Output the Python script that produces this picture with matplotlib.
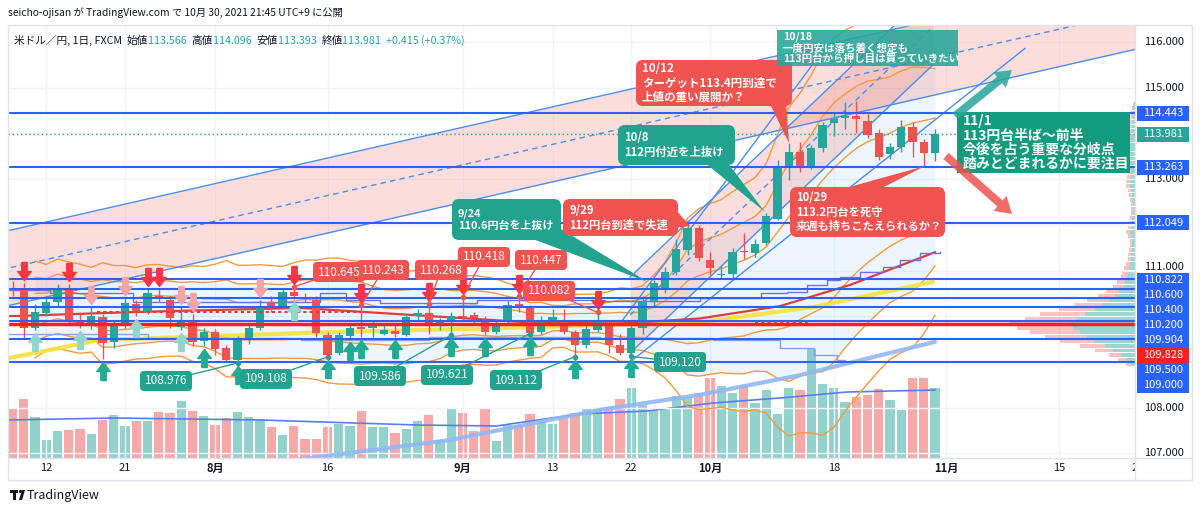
import numpy as np
import pandas as pd
import matplotlib
matplotlib.use('Agg')
import matplotlib.pyplot as plt
from matplotlib import transforms
from matplotlib.patches import FancyBboxPatch, Polygon, Rectangle
from matplotlib.path import Path

plt.rcParams['font.family'] = ['Noto Sans CJK JP', 'DejaVu Sans']

# USD/JPY daily, 2021-07-07 .. 2021-10-29 (one bar per weekday)
opens = [110.62, 110.59, 109.74, 110.08, 110.32, 110.60, 109.92, 109.79, 109.99, 109.44,
         109.83, 110.27, 110.10, 110.44, 110.35, 109.77, 109.88, 109.46, 109.66, 109.30,
         109.05, 109.48, 109.74, 110.32, 110.21, 110.54, 110.42, 110.35, 109.59, 109.20,
         109.57, 109.76, 109.74, 109.62, 109.68, 109.59, 110.00, 110.07, 109.81, 109.92,
         110.01, 110.02, 109.88, 109.66, 109.88, 110.26, 110.18, 109.66, 109.90, 109.88,
         109.66, 109.37, 109.70, 109.81, 109.37, 109.20, 109.74, 110.32, 110.62, 110.97,
         111.45, 111.93, 111.23, 110.90, 110.92, 111.43, 111.39, 111.60, 112.13, 113.27,
         113.60, 113.27, 113.68, 114.23, 114.34, 114.37, 114.28, 114.00, 113.55, 113.71,
         114.14, 113.82, 113.566]
highs = [110.78, 110.72, 110.26, 110.40, 110.70, 110.70, 110.05, 110.20, 110.05, 109.90,
         110.40, 110.35, 110.59, 110.60, 110.45, 110.20, 110.05, 109.75, 109.72, 109.36,
         109.56, 109.80, 110.36, 110.45, 110.60, 110.645, 110.50, 110.45, 109.65, 109.65,
         109.85, 110.243, 109.92, 109.85, 109.80, 110.05, 110.15, 110.268, 109.95, 110.10,
         110.418, 110.10, 110.00, 109.90, 110.35, 110.447, 110.25, 110.00, 110.15, 110.15,
         109.70, 109.80, 110.082, 109.90, 109.60, 109.80, 110.45, 110.80, 111.07, 111.68,
         112.07, 112.00, 111.40, 111.10, 111.50, 111.82, 111.70, 112.25, 113.42, 113.80,
         113.82, 113.75, 114.25, 114.45, 114.69, 114.70, 114.42, 114.10, 113.80, 114.30,
         114.25, 113.88, 114.096]
lows = [110.45, 109.53, 109.70, 110.00, 110.20, 109.80, 109.75, 109.72, 109.06, 109.30,
        109.75, 110.00, 110.05, 110.30, 109.75, 109.70, 109.35, 109.35, 109.15, 109.00,
        108.976, 109.40, 109.70, 110.10, 110.15, 110.38, 110.30, 109.55, 109.108, 109.15,
        109.50, 109.55, 109.55, 109.58, 109.55, 109.57, 109.90, 109.62, 109.70, 109.586,
        109.90, 109.85, 109.58, 109.60, 109.80, 110.10, 109.621, 109.60, 109.80, 109.60,
        109.112, 109.30, 109.65, 109.20, 109.15, 109.12, 109.60, 110.20, 110.50, 110.90,
        111.35, 111.20, 110.90, 110.82, 110.80, 111.25, 111.30, 111.55, 112.10, 112.98,
        113.15, 113.22, 113.60, 113.95, 114.10, 114.00, 113.90, 113.41, 113.45, 113.60,
        113.48, 113.26, 113.393]
closes = [110.60, 109.74, 110.10, 110.32, 110.60, 109.92, 109.86, 110.00, 109.42, 109.83,
          110.29, 110.10, 110.51, 110.38, 109.96, 109.88, 109.44, 109.66, 109.28, 109.05,
          109.48, 109.74, 110.18, 110.22, 110.54, 110.44, 110.38, 109.63, 109.15, 109.59,
          109.74, 109.72, 109.80, 109.69, 109.62, 109.99, 110.07, 109.81, 109.88, 110.00,
          109.98, 109.95, 109.66, 109.81, 110.25, 110.22, 109.63, 109.88, 109.98, 109.66,
          109.37, 109.71, 109.90, 109.37, 109.20, 109.74, 110.32, 110.72, 110.97, 111.47,
          111.93, 111.27, 111.05, 110.93, 111.41, 111.40, 111.58, 112.19, 113.27, 113.60,
          113.27, 113.68, 114.18, 114.31, 114.37, 114.31, 113.96, 113.49, 113.70, 114.14,
          113.82, 113.57, 113.981]
volumes = [49.7, 59, 41, 18, 27.4, 28.2, 29.3, 24.3, 38.5, 43.5,
           32, 37, 37, 46, 45.5, 57, 47.4, 42.4, 33.2, 40,
           46.2, 41, 39, 31, 23.2, 32.4, 19, 19, 31.2, 34,
           32, 47.4, 31.2, 31.2, 25.5, 29, 37, 43.5, 18.5, 49.7,
           45.5, 27.4, 49.7, 16.6, 33.2, 33.2, 44, 37, 34, 41.6,
           44.7, 48.7, 48.7, 51.3, 59.3, 70.3, 53, 48, 47.7, 62,
           61, 65.3, 80.3, 72, 64.7, 72.7, 55.3, 68, 44.3, 70.3,
           68, 109.3, 73.7, 70.3, 56.3, 61, 62.7, 68.7, 57.7, 48,
           80.3, 80.3, 69.7]

tick_idx = [3, 10, 18, 28, 40, 48, 55, 62, 73, 83, 93, 100]
tick_txt = ['12', '21', '8月', '16', '9月', '13', '22', '10月', '18', '11月', '15', '22']
month_ticks = ['8月', '9月', '10月', '11月']
axis_prices = [116, 115, 113, 111, 108, 107]

hlines = [114.443, 113.263, 112.049, 110.822, 110.600, 110.400, 110.200, 109.904, 109.500, 109.000]
poc = 109.828
last_close = 113.981

# signal arrows (bar indices)
sell_strong = [1, 5, 12, 13, 25, 31, 37, 40, 45, 52]
sell_weak = [7, 10, 15, 16, 22]
buy_strong = [8, 17, 20, 28, 30, 31, 34, 39, 42, 46, 50, 55]
buy_weak = [2, 6, 11, 15, 25]

# swing high / low markers
swing_hi = [25, 31, 37, 40, 45, 52]
swing_lo = [20, 28, 39, 46, 50, 55]

# moving averages / trend drawings as (bar index, price) knots
ma_red_x = [-0.4, 12, 25.6, 46.3, 54, 61.1, 68.2, 74.4, 82]
ma_red_y = [110.00, 110.10, 110.18, 109.86, 109.84, 109.95, 110.22, 110.68, 111.40]
ma_yel_x = [-0.2, 7.8, 28.2, 43.3, 61.1, 71.2, 81.8]
ma_yel_y = [109.09, 109.48, 109.65, 109.74, 109.87, 110.20, 110.75]
long_x = [25.0, 38.9, 52.2, 61.1, 70.0, 82.0]
long_y = [106.85, 107.29, 107.95, 108.28, 108.71, 109.44]
vma_x = [-0.4, 9, 22, 36, 43, 50.4, 56.4, 62.3, 68.2, 74.2, 82]
vma_y = [38, 40, 38, 33, 32, 44, 47, 55, 60, 66, 68]
step_hi_x = [-0.4, 3.3, 10.7, 27.3, 29.6, 32.7, 41.3, 52.2, 61.1, 66.5, 68.8, 70.6, 72.4,
             73.6, 75.3, 77.4, 78.9, 80.7, 82.4]
step_hi_y = [110.57, 110.50, 110.30, 110.50, 110.35, 110.29, 110.35, 110.33, 110.40, 110.50,
             110.53, 110.68, 110.79, 110.85, 110.96, 111.07, 111.23, 111.38, 111.40]
step_lo_x = [-0.4, 12.0, 25.6, 37.0, 52.2, 62.3, 68.2, 71.2, 73.3, 74.0]
step_lo_y = [109.60, 109.52, 109.48, 109.55, 109.52, 109.48, 109.30, 109.15, 109.04, 109.04]

ch1_x = [-1, 100]
ch1_lo = [110.196, 115.85]
ch1_w = 1.641
ch2_x = [54.9, 81.8]
ch2_lo = [109.195, 115.497]
ch2_w = 1.663
tl_a_x = [54.0, 72.0]
tl_a_y = [109.84, 115.80]
tl_b_x = [54.9, 90.0]
tl_b_y = [108.998, 115.86]

# volume profile rows (price, up, down) in arbitrary units
vp_price = np.round(np.arange(108.95, 114.75, 0.1), 2)
vp_up = [5, 9, 14, 22, 30, 40, 48, 55, 62, 66, 58, 50, 40, 33, 26, 20, 16, 12, 10, 8,
         7, 6, 5, 4, 4, 3, 3, 3, 4, 5, 4, 3, 3, 2, 2, 2, 3, 3, 4, 5,
         5, 4, 4, 5, 6, 7, 6, 5, 6, 5, 4, 4, 3, 3, 2, 2, 2, 1]
vp_dn = [4, 8, 12, 18, 25, 35, 42, 50, 56, 60, 52, 45, 36, 28, 22, 17, 13, 10, 8, 6,
         6, 5, 4, 3, 3, 3, 2, 2, 3, 4, 3, 3, 2, 2, 2, 2, 2, 3, 3, 4,
         4, 4, 3, 4, 5, 5, 5, 4, 5, 4, 3, 3, 3, 2, 2, 2, 1, 1]

UP = '#26a69a'
DN = '#ef5350'
BLUE = '#2962ff'

W, H = 1200, 512
fig = plt.figure(figsize=(12, 5.12), dpi=100)
PX = transforms.Affine2D().scale(1 / W, -1 / H).translate(0, 1) + fig.transFigure

L, T, R, B = 8, 25, 1135, 458
x0, dx = 12.5, 11.25
p0, dy = 116.0, 45.7
rect = [L / W, 1 - B / H, (R - L) / W, (B - T) / H]
xlim = ((L - x0) / dx, (R - x0) / dx)
ylim = (p0 - (B - 42) / dy, p0 + (42 - T) / dy)

axv = fig.add_axes(rect, zorder=0)
axp = fig.add_axes(rect, zorder=0.5)
ax = fig.add_axes(rect, zorder=1)
for a in (axv, axp, ax):
    a.set_xticks([])
    a.set_yticks([])
    for s in a.spines.values():
        s.set_visible(False)
ax.patch.set_visible(False)
axp.patch.set_visible(False)

idx = np.arange(len(closes))
o = np.array(opens); h = np.array(highs); l = np.array(lows); c = np.array(closes)
up = c >= o

# grid
for t in tick_idx[:-1]:
    axv.axvline(t, color='#f0f3fa', lw=1)
axv.set_xlim(*xlim)
axv.set_ylim(0, B - T)
for pr in range(107, 117):
    ax.axhline(pr, color='#f0f3fa', lw=1, zorder=0)

# volume
vcol = np.where(up, '#92d2cc', '#f7a9a7')
axv.bar(idx, volumes, width=0.82, color=vcol, zorder=1)
axv.plot(vma_x, vma_y, color='#5b7cf0', lw=1.2, zorder=2)

# volume profile
axp.set_xlim(R - L, 0)
axp.set_ylim(*ylim)
axp.barh(vp_price, vp_up, height=0.085, color=UP, alpha=0.45, lw=0)
axp.barh(vp_price, vp_dn, left=vp_up, height=0.085, color=DN, alpha=0.35, lw=0)

ax.set_xlim(*xlim)
ax.set_ylim(*ylim)

# bollinger bands (20, 1/2/3 sigma)
s = pd.Series(closes)
mid = s.rolling(20, min_periods=3).mean()
sd = s.rolling(20, min_periods=3).std(ddof=0)
ax.fill_between(idx, mid - 2 * sd, mid + 2 * sd, color='#2196f3', alpha=0.08, lw=0, zorder=1)
for k in (1, 2, 3):
    ax.plot(idx, mid + k * sd, color='#f59a3c', lw=1, zorder=2)
    ax.plot(idx, mid - k * sd, color='#f59a3c', lw=1, zorder=2)

# channels
cx = np.array(ch1_x); clo = np.array(ch1_lo)
ax.fill_between(cx, clo, clo + ch1_w, color='#f28b82', alpha=0.28, lw=0, zorder=1)
ax.plot(cx, clo, color='#4a8ef0', lw=1, zorder=2)
ax.plot(cx, clo + ch1_w, color='#4a8ef0', lw=1, zorder=2)
ax.plot(cx, clo + ch1_w / 2, color='#4a8ef0', lw=1, ls=(0, (4, 3)), zorder=2)

cx2 = np.array(ch2_x); clo2 = np.array(ch2_lo)
ax.fill_between(cx2, clo2, clo2 + ch2_w, color='#f28b82', alpha=0.28, lw=0, zorder=1)
ax.plot(cx2, clo2, color='#4a8ef0', lw=1, zorder=2)
ax.plot(cx2, clo2 + ch2_w, color='#4a8ef0', lw=1, zorder=2)
ax.plot(cx2, clo2 + ch2_w / 2, color='#4a8ef0', lw=1, ls=(0, (4, 3)), zorder=2)
ax.plot(tl_a_x, tl_a_y, color='#4a8ef0', lw=1, zorder=2)
ax.plot(tl_b_x, tl_b_y, color='#4a8ef0', lw=1, zorder=2)

# moving averages and step lines
ax.plot(ma_yel_x, ma_yel_y, color='#f5e23c', lw=3, alpha=0.9, zorder=2)
ax.plot(ma_red_x, ma_red_y, color='#e03c3c', lw=1.6, zorder=2)
ax.plot(long_x, long_y, color='#8fb8f6', lw=3, alpha=0.9, zorder=2, solid_capstyle='round')
ax.plot(step_hi_x, step_hi_y, color='#6d72e8', lw=1, drawstyle='steps-post', zorder=2)
ax.plot(step_lo_x, step_lo_y, color='#8d9cf0', lw=1, drawstyle='steps-post', zorder=2)

# candles
ccol = np.where(up, UP, DN)
ax.vlines(idx, l, h, colors=ccol, lw=1, zorder=3)
body = np.maximum(np.abs(c - o), 0.02)
ax.bar(idx, body, bottom=np.minimum(o, c), width=0.72, color=ccol, zorder=3)

# horizontal levels
for lv in hlines:
    ax.axhline(lv, color=BLUE, lw=1.5, zorder=4)
ax.axhline(poc, color='#ff1f1f', lw=2.5, zorder=4)
ax.axhline(last_close, color=UP, lw=1, ls=(0, (1, 2)), zorder=4)
ax.plot([7.5, 31], [110.1, 110.1], color='#e53935', lw=1.5, ls=(0, (1.5, 1.5)), zorder=4)
ax.plot([66, 71], [109.87, 109.87], color='#e53935', lw=1.5, ls=(0, (1.5, 1.5)), zorder=4)

# signal arrows
dv = [(-0.3, 1), (0.3, 1), (0.3, 0), (0.75, 0), (0, -1), (-0.75, 0), (-0.3, 0), (-0.3, 1)]
down_m = Path(dv)
up_m = Path([(x, -y) for x, y in dv])
off_up = transforms.offset_copy(ax.transData, fig=fig, y=12, units='dots')
off_dn = transforms.offset_copy(ax.transData, fig=fig, y=-12, units='dots')
ax.plot(sell_strong, h[sell_strong], ls='none', marker=down_m, ms=13, color='#f23645',
        transform=off_up, zorder=5)
ax.plot(sell_weak, h[sell_weak], ls='none', marker=down_m, ms=13, color='#f4a3a6',
        transform=off_up, zorder=5)
ax.plot(buy_strong, l[buy_strong], ls='none', marker=up_m, ms=13, color='#22ab94',
        transform=off_dn, zorder=5)
ax.plot(buy_weak, l[buy_weak], ls='none', marker=up_m, ms=13, color='#92d6c9',
        transform=off_dn, zorder=5)


def px2data(xp, yp):
    return (xp - x0) / dx, p0 - (yp - 42) / dy


def price_label(cx_, cy_, i, val, col):
    lx, ly = px2data(cx_, cy_)
    ax.plot([lx, i], [ly, val], color=col, lw=1, zorder=5)
    ax.plot([i], [val], 'o', ms=3, color=col, zorder=5)
    box = FancyBboxPatch((cx_ - 26, cy_ - 10), 52, 20, boxstyle='round,pad=0,rounding_size=4',
                         transform=PX, fc=col, ec='none', zorder=6)
    fig.add_artist(box)
    fig.text(cx_, cy_, f'{val:.3f}', transform=PX, ha='center', va='center',
             fontsize=8.5, color='white', zorder=7)


hi_pos = [(339, 272), (383, 270), (441, 270), (484, 257), (541, 260), (549, 291)]
lo_pos = [(166, 381), (266, 379), (380, 376), (447, 375), (516, 380), (680, 362)]
for (px_, py_), i in zip(hi_pos, swing_hi):
    price_label(px_, py_, i, h[i], '#f05350')
for (px_, py_), i in zip(lo_pos, swing_lo):
    price_label(px_, py_, i, l[i], '#22a38f')


def callout(x1, y1, x2, y2, col, text, fs, tail=None, round_=True, alpha=1.0, lsp=1.15):
    style = 'round,pad=0,rounding_size=7' if round_ else 'square,pad=0'
    fig.add_artist(FancyBboxPatch((x1, y1), x2 - x1, y2 - y1, boxstyle=style, transform=PX,
                                  fc=col, ec='none', alpha=alpha, zorder=8))
    if tail:
        fig.add_artist(Polygon(tail, closed=True, transform=PX, fc=col, ec='none',
                               alpha=alpha, zorder=8))
    fig.text(x1 + 6, (y1 + y2) / 2, text, transform=PX, ha='left', va='center', fontsize=fs,
             color='white', fontweight='bold', linespacing=lsp, zorder=9)


callout(452, 199, 561, 240, '#22a38f', '9/24\n110.6円台を上抜け', 7.9,
        tail=[(530, 238), (556, 226), (648, 282)])
callout(563, 199, 678, 236, '#f05350', '9/29\n112円台到達で失速', 8.1,
        tail=[(676, 210), (676, 228), (690, 226)])
callout(618, 125, 735, 165, '#22a38f', '10/8\n112円付近を上抜け', 8.2,
        tail=[(704, 162), (727, 162), (765, 212)])
callout(636, 60, 792, 106, '#f05350', '10/12\nターゲット113.4円到達で\n上値の重い展開か？', 8.3,
        tail=[(770, 104), (786, 104), (789, 143)])
callout(777, 30, 958, 66, '#26a69a', '10/18\n一度円安は落ち着く想定も\n113円台から押し目は買っていきたい',
        7.6, round_=False, alpha=0.88, lsp=1.05)
callout(790, 187, 945, 237, '#f05350', '10/29\n113.2円台を死守\n来週も持ちこたえられるか？', 8.1,
        tail=[(842, 189), (880, 189), (925, 166)])
callout(957, 112, 1130, 173, '#139b7f', '11/1\n113円台半ば～前半\n今後を占う重要な分岐点\n踏みとどまれるかに要注目',
        10, round_=False, lsp=1.0)

# projection arrows
for (xa, ya, xb, yb, col) in [(955, 116, 1012, 70, '#26a69a'), (946, 156, 1012, 214, '#f05350')]:
    ang = np.arctan2(yb - ya, xb - xa)
    ux, uy = np.cos(ang), np.sin(ang)
    nx, ny = -uy, ux
    hl, hw, sw = 16, 10, 4
    bx, by = xb - ux * hl, yb - uy * hl
    pts = [(xa + nx * sw, ya + ny * sw), (bx + nx * sw, by + ny * sw), (bx + nx * hw, by + ny * hw),
           (xb, yb), (bx - nx * hw, by - ny * hw), (bx - nx * sw, by - ny * sw),
           (xa - nx * sw, ya - ny * sw)]
    fig.add_artist(Polygon(pts, closed=True, transform=PX, fc=col, ec='none', alpha=0.85, zorder=8))

# frame and price axis panel
fig.add_artist(Rectangle((R, T), 1192 - R, B - T, transform=PX, fc='white', ec='none', zorder=10))
fig.add_artist(Rectangle((L, T), 1192 - L, 480 - T, transform=PX, fc='none', ec='#e0e3eb',
                         lw=1, zorder=11))
fig.add_artist(plt.Line2D([L, 1192], [B, B], transform=PX, color='#e0e3eb', lw=1, zorder=11))
fig.add_artist(plt.Line2D([R, R], [T, 480], transform=PX, color='#e0e3eb', lw=1, zorder=11))

for pr in axis_prices:
    yp = 42 + (p0 - pr) * dy
    if pr == 111:
        yp -= 3
    fig.text(1164, yp, f'{pr:.3f}', transform=PX, ha='center', va='center', fontsize=8,
             color='#131722', zorder=12)

lab_y = [113, 167, 222.6, 280, 295, 310, 325, 340, 370, 385]
for lv, yp in zip(hlines, lab_y):
    fig.add_artist(Rectangle((1137, yp - 7.5), 52, 15, transform=PX, fc=BLUE, ec='none', zorder=13))
    fig.text(1163, yp, f'{lv:.3f}', transform=PX, ha='center', va='center', fontsize=8,
             color='white', zorder=14)
for lv, yp, col in [(last_close, 134, UP), (poc, 355, '#ff1f1f')]:
    fig.add_artist(Rectangle((1137, yp - 7.5), 52, 15, transform=PX, fc=col, ec='none', zorder=13))
    fig.text(1163, yp, f'{lv:.3f}', transform=PX, ha='center', va='center', fontsize=8,
             color='white', zorder=14)

# time axis labels
for t, s_ in zip(tick_idx, tick_txt):
    xp = x0 + t * dx
    fig.text(xp, 468, s_, transform=PX, ha='center', va='center', fontsize=8, color='#131722',
             fontweight='bold' if s_ in month_ticks else 'normal', zorder=9)
fig.add_artist(Rectangle((R + 0.5, B + 1), 1191 - R, 479 - B, transform=PX, fc='white', ec='none', zorder=10))

# header
fig.text(8, 13, 'seicho-ojisan が TradingView.com で 10月 30, 2021 21:45 UTC+9 に公開', transform=PX,
         ha='left', va='center', fontsize=7.4, color='#131722')
parts = [('米ドル／円, 1日, FXCM  ', '#131722'), ('始値', '#131722'), ('113.566  ', UP),
         ('高値', '#131722'), ('114.096  ', UP), ('安値', '#131722'), ('113.393  ', UP),
         ('終値', '#131722'), ('113.981  ', UP), ('+0.415 (+0.37%)', UP)]
prev = fig.text(14, 40, parts[0][0], transform=PX, ha='left', va='center', fontsize=7.7,
                color=parts[0][1], zorder=12)
for txt, col in parts[1:]:
    prev = fig.add_artist(matplotlib.text.Annotation(txt, xy=(1, 0), xycoords=prev, ha='left',
                                                     va='bottom', fontsize=7.7, color=col, zorder=12))

# footer logo
fig.add_artist(Polygon([(10, 490), (18, 490), (18, 493), (16, 493), (16, 500), (13, 500), (13, 493),
                        (10, 493)], closed=True, transform=PX, fc='#131722', ec='none'))
fig.add_artist(matplotlib.patches.Circle((20.5, 491.5), 1.6, transform=PX, fc='#131722', ec='none'))
fig.add_artist(Polygon([(22, 490), (25, 490), (22, 500), (19, 500)], closed=True, transform=PX,
                       fc='#131722', ec='none'))
fig.text(27, 495, 'TradingView', transform=PX, ha='left', va='center', fontsize=9, color='#131722')

fig.savefig('out.png', dpi=100, facecolor='white')
